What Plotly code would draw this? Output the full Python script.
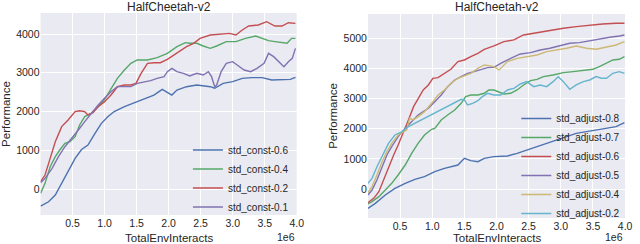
import plotly.graph_objects as go

# ---------------- data (x in units of 1e6 env interacts) ----------------
# Left panel: std_const
c06_x = [0, 0.125, 0.23, 0.33, 0.43, 0.54, 0.64, 0.74, 0.85, 0.95, 1.05, 1.15, 1.31, 1.46, 1.62, 1.77, 1.9, 1.98, 2.05, 2.13, 2.28, 2.44, 2.54, 2.65, 2.72, 2.85, 3.0, 3.15, 3.3, 3.46, 3.61, 3.77, 3.9, 3.98]
c06_y = [-440, -330, -155, 146, 447, 790, 1020, 1135, 1437, 1695, 1867, 2000, 2125, 2228, 2340, 2425, 2572, 2486, 2425, 2555, 2640, 2684, 2658, 2640, 2600, 2727, 2770, 2856, 2873, 2873, 2813, 2813, 2830, 2880]

c04_x = [0, 0.07, 0.15, 0.23, 0.3, 0.38, 0.46, 0.54, 0.61, 0.69, 0.79, 0.9, 1.0, 1.1, 1.2, 1.31, 1.41, 1.51, 1.67, 1.82, 1.98, 2.13, 2.26, 2.33, 2.44, 2.54, 2.65, 2.75, 2.9, 3.05, 3.2, 3.36, 3.46, 3.56, 3.66, 3.77, 3.85, 3.92, 3.98]
c04_y = [-112, 146, 576, 834, 1006, 1178, 1221, 1350, 1652, 1867, 1953, 2125, 2314, 2598, 2856, 3071, 3243, 3329, 3329, 3389, 3501, 3673, 3776, 3760, 3760, 3690, 3630, 3690, 3802, 3802, 3888, 3948, 3888, 3828, 3802, 3776, 3760, 3888, 3888]

c02_x = [0, 0.07, 0.15, 0.23, 0.33, 0.43, 0.54, 0.61, 0.69, 0.74, 0.82, 0.9, 1.0, 1.1, 1.2, 1.31, 1.41, 1.49, 1.57, 1.67, 1.77, 1.87, 1.98, 2.13, 2.28, 2.39, 2.49, 2.65, 2.8, 2.95, 3.05, 3.15, 3.25, 3.4, 3.53, 3.66, 3.77, 3.87, 3.98]
c02_y = [190, 360, 790, 1220, 1610, 1780, 1996, 2020, 1996, 1910, 1970, 2125, 2254, 2425, 2640, 2684, 2684, 2727, 2985, 3243, 3260, 3260, 3346, 3500, 3673, 3760, 3888, 3974, 4000, 4017, 3974, 4103, 4206, 4232, 4318, 4206, 4206, 4292, 4275]

c01_x = [0, 0.07, 0.18, 0.28, 0.38, 0.49, 0.59, 0.69, 0.79, 0.9, 1.0, 1.1, 1.2, 1.31, 1.41, 1.51, 1.62, 1.72, 1.82, 1.93, 1.98, 2.05, 2.13, 2.23, 2.33, 2.44, 2.54, 2.62, 2.67, 2.72, 2.75, 2.82, 2.9, 3.0, 3.07, 3.18, 3.28, 3.38, 3.49, 3.56, 3.64, 3.72, 3.8, 3.87, 3.93, 3.98]
c01_y = [163, 275, 533, 834, 1092, 1307, 1522, 1738, 1953, 2168, 2340, 2512, 2641, 2641, 2641, 2727, 2770, 2796, 2856, 2899, 3028, 3114, 3028, 2985, 2916, 2985, 2942, 3028, 2899, 2641, 2684, 3028, 3243, 3286, 3200, 3071, 3028, 3114, 3243, 3501, 3415, 3286, 3157, 3286, 3372, 3630]

# Right panel: std_adjust
a08_x = [0, 0.115, 0.27, 0.42, 0.58, 0.73, 0.88, 1.04, 1.19, 1.29, 1.40, 1.50, 1.60, 1.71, 1.81, 1.96, 2.17, 2.32, 2.47, 2.63, 2.78, 2.94, 3.09, 3.24, 3.40, 3.55, 3.71, 3.86, 3.99]
a08_y = [-641, -476, -199, 22, 188, 321, 409, 575, 686, 741, 796, 1018, 940, 907, 1018, 1073, 1095, 1184, 1294, 1405, 1515, 1626, 1737, 1847, 1903, 1958, 2013, 2069, 2201]

a07_x = [0, 0.064, 0.17, 0.27, 0.37, 0.47, 0.58, 0.68, 0.78, 0.88, 0.99, 1.04, 1.14, 1.24, 1.35, 1.45, 1.52, 1.60, 1.71, 1.81, 1.88, 1.96, 2.04, 2.115, 2.22, 2.32, 2.42, 2.53, 2.63, 2.73, 2.88, 3.04, 3.19, 3.35, 3.50, 3.60, 3.71, 3.81, 3.91, 3.99]
a07_y = [-498, -420, -254, -33, 188, 465, 796, 1184, 1515, 1792, 1980, 2013, 2290, 2456, 2622, 2843, 3064, 3119, 3119, 3175, 3285, 3285, 3230, 3153, 3175, 3285, 3451, 3595, 3639, 3728, 3783, 3860, 3894, 3927, 3971, 4060, 4170, 4281, 4303, 4391]

a06_x = [0, 0.09, 0.17, 0.24, 0.32, 0.40, 0.47, 0.55, 0.63, 0.71, 0.78, 0.86, 0.94, 1.01, 1.09, 1.19, 1.29, 1.40, 1.50, 1.60, 1.71, 1.81, 1.91, 1.96, 2.115, 2.27, 2.42, 2.63, 2.83, 3.04, 3.24, 3.45, 3.65, 3.86, 3.99]
a06_y = [-454, -310, -88, 299, 741, 1128, 1460, 1847, 2290, 2732, 3009, 3285, 3451, 3673, 3695, 3838, 3971, 4226, 4281, 4392, 4502, 4635, 4701, 4746, 4889, 4945, 5110, 5188, 5276, 5332, 5387, 5442, 5476, 5498, 5498]

a05_x = [0, 0.064, 0.14, 0.22, 0.295, 0.37, 0.47, 0.58, 0.68, 0.78, 0.86, 0.94, 1.04, 1.14, 1.24, 1.35, 1.45, 1.55, 1.65, 1.76, 1.86, 1.96, 2.065, 2.22, 2.37, 2.53, 2.68, 2.83, 2.99, 3.14, 3.29, 3.45, 3.60, 3.76, 3.91, 3.99]
a05_y = [-199, -33, 299, 741, 1128, 1405, 1737, 2013, 2235, 2456, 2566, 2677, 2898, 3119, 3396, 3617, 3728, 3838, 3894, 3971, 4027, 4038, 4170, 4336, 4480, 4524, 4613, 4668, 4746, 4834, 4856, 4923, 4967, 5033, 5077, 5110]

a04_x = [0, 0.064, 0.14, 0.22, 0.295, 0.37, 0.47, 0.55, 0.60, 0.65, 0.705, 0.78, 0.88, 0.99, 1.09, 1.19, 1.29, 1.40, 1.50, 1.60, 1.71, 1.81, 1.88, 1.96, 2.04, 2.17, 2.32, 2.47, 2.63, 2.78, 2.94, 3.09, 3.24, 3.40, 3.55, 3.71, 3.86, 3.99]
a04_y = [-122, 77, 465, 907, 1239, 1515, 1792, 1903, 1958, 2345, 2290, 2400, 2566, 2843, 3119, 3285, 3507, 3673, 3750, 3838, 4004, 4115, 4093, 4060, 3949, 4226, 4336, 4392, 4447, 4557, 4613, 4668, 4746, 4668, 4635, 4701, 4779, 4889]

a02_x = [0, 0.064, 0.14, 0.22, 0.32, 0.42, 0.53, 0.63, 0.73, 0.83, 0.94, 1.04, 1.14, 1.24, 1.35, 1.45, 1.50, 1.55, 1.63, 1.71, 1.78, 1.86, 1.96, 2.065, 2.17, 2.27, 2.37, 2.47, 2.58, 2.68, 2.78, 2.88, 2.96, 3.04, 3.14, 3.24, 3.35, 3.45, 3.55, 3.63, 3.71, 3.81, 3.91, 3.99]
a02_y = [188, 354, 741, 1073, 1515, 1792, 1903, 2069, 2179, 2290, 2400, 2511, 2622, 2732, 2865, 2976, 2954, 2788, 2843, 2931, 3064, 3175, 3119, 3119, 3285, 3340, 3484, 3562, 3396, 3451, 3396, 3562, 3728, 3562, 3307, 3451, 3562, 3617, 3728, 3673, 3673, 3838, 3894, 3838]

left_names = ["std_const-0.6", "std_const-0.4", "std_const-0.2", "std_const-0.1"]
right_names = ["std_adjust-0.8", "std_adjust-0.7", "std_adjust-0.6", "std_adjust-0.5", "std_adjust-0.4", "std_adjust-0.2"]
x_ticks = [0.5, 1.0, 1.5, 2.0, 2.5, 3.0, 3.5, 4.0]
left_yticks = [0, 1000, 2000, 3000, 4000]
right_yticks = [0, 1000, 2000, 3000, 4000, 5000]
title_text = "HalfCheetah-v2"

# ---------------- styling ----------------
BLUE, GREEN, RED, PURPLE, YELLOW, CYAN = "#4C72B0", "#55A868", "#C44E52", "#8172B2", "#CCB974", "#64B5CD"
BG = "#EAEAF2"
TXT = "#262626"
FONT = "Liberation Sans, Arial, sans-serif"
W, H = 640, 244

fig = go.Figure()

left_series = [(c06_x, c06_y, BLUE), (c04_x, c04_y, GREEN), (c02_x, c02_y, RED), (c01_x, c01_y, PURPLE)]
for (xs, ys, col), nm in zip(left_series, left_names):
    fig.add_trace(go.Scatter(x=xs, y=ys, mode="lines", name=nm, line=dict(color=col, width=1.4),
                             xaxis="x", yaxis="y", legend="legend"))

right_series = [(a08_x, a08_y, BLUE), (a07_x, a07_y, GREEN), (a06_x, a06_y, RED),
                (a05_x, a05_y, PURPLE), (a04_x, a04_y, YELLOW), (a02_x, a02_y, CYAN)]
for (xs, ys, col), nm in zip(right_series, right_names):
    fig.add_trace(go.Scatter(x=xs, y=ys, mode="lines", name=nm, line=dict(color=col, width=1.4),
                             xaxis="x2", yaxis="y2", legend="legend2"))

# pixel-based layout helpers
def px_x(p):
    return p / W

def px_y(p):
    return 1 - p / H

L1, R1, T1, B1 = 41, 300, 13, 215
L2, R2, T2, B2 = 372, 632, 14, 218

axis_common = dict(showgrid=True, gridcolor="white", gridwidth=1, zeroline=False, showline=False,
                   ticks="", tickfont=dict(family=FONT, size=10.5, color=TXT))

fig.update_layout(
    width=W, height=H, margin=dict(l=0, r=0, t=0, b=0),
    paper_bgcolor="white", plot_bgcolor=BG,
    font=dict(family=FONT, color=TXT),
    xaxis=dict(domain=[px_x(L1), px_x(R1)], range=[0, 4.0], tickvals=x_ticks, tickformat=".1f",
               anchor="y", **axis_common),
    yaxis=dict(domain=[px_y(B1), px_y(T1)], range=[-671, 4542], tickvals=left_yticks,
               anchor="x", **axis_common),
    xaxis2=dict(domain=[px_x(L2), px_x(R2)], range=[0, 4.0], tickvals=x_ticks, tickformat=".1f",
                anchor="y2", **axis_common),
    yaxis2=dict(domain=[px_y(B2), px_y(T2)], range=[-962, 5806], tickvals=right_yticks,
                anchor="x2", **axis_common),
    legend=dict(x=px_x(190), y=px_y(178.5), xanchor="left", yanchor="middle",
                bgcolor="rgba(0,0,0,0)", font=dict(family=FONT, size=10, color=TXT)),
    legend2=dict(x=px_x(522), y=px_y(166), xanchor="left", yanchor="middle",
                 bgcolor="rgba(0,0,0,0)", font=dict(family=FONT, size=10, color=TXT)),
    showlegend=True,
)

ann = []
for (l, r, t, b) in [(L1, R1, T1, B1), (L2, R2, T2, B2)]:
    cx = (l + r) / 2
    ann.append(dict(text=title_text, x=px_x(cx), y=px_y(6.5), xref="paper", yref="paper",
                    xanchor="center", yanchor="middle", showarrow=False,
                    font=dict(family=FONT, size=12, color=TXT)))
    ann.append(dict(text="TotalEnvInteracts", x=px_x(cx), y=px_y(238), xref="paper", yref="paper",
                    xanchor="center", yanchor="middle", showarrow=False,
                    font=dict(family=FONT, size=11.5, color=TXT)))
    ann.append(dict(text="1e6", x=px_x(r), y=px_y(237), xref="paper", yref="paper",
                    xanchor="right", yanchor="middle", showarrow=False,
                    font=dict(family=FONT, size=10.5, color=TXT)))
ann.append(dict(text="Performance", x=px_x(6), y=px_y((T1 + B1) / 2), xref="paper", yref="paper",
                xanchor="center", yanchor="middle", textangle=-90, showarrow=False,
                font=dict(family=FONT, size=11.5, color=TXT)))
ann.append(dict(text="Performance", x=px_x(336.5), y=px_y((T2 + B2) / 2), xref="paper", yref="paper",
                xanchor="center", yanchor="middle", textangle=-90, showarrow=False,
                font=dict(family=FONT, size=11.5, color=TXT)))
fig.update_layout(annotations=ann)

fig.write_html("out.html", config={"displayModeBar": False},
               post_script="document.body.style.margin='0';document.body.style.overflow='hidden';")
